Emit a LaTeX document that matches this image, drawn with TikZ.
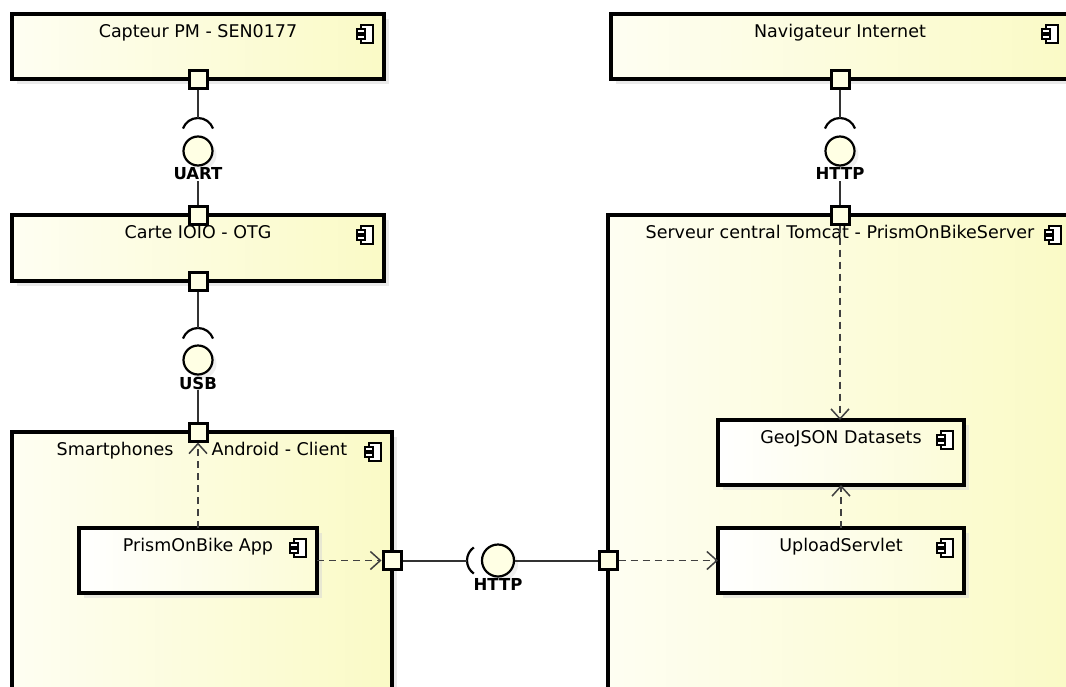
\documentclass[tikz,border=0pt]{standalone}
\usepackage{fontspec}
\setmainfont{DejaVu Sans}
\usetikzlibrary{positioning, arrows.meta, shadows}
\definecolor{compleft}{HTML}{FEFEF2}
\definecolor{compright}{HTML}{FAFAC6}
\definecolor{portfill}{HTML}{FFFFE4}
\tikzset{
x=1pt, y=-1pt, % one unit per pixel, y runs downwards
comp/.style={rectangle, draw, line width=3.2pt, outer sep=0pt, anchor=north west, left color=compleft, right color=compright,
  drop shadow={shadow xshift=5pt, shadow yshift=-5pt, fill=black!16}}, % the component boxes
inner/.style={comp, left color=white, right color=compright!70}, % components nested in another one
port/.style={rectangle, draw, line width=3pt, fill=portfill, minimum size=18pt, inner sep=0pt}, % the small squares
ball/.style={circle, draw, line width=2.2pt, fill=portfill, minimum size=29pt, inner sep=0pt,
  drop shadow={shadow xshift=4pt, shadow yshift=-4pt, fill=black!12}}, % provided interface
socket/.style={line width=2.2pt}, % required interface
iflabel/.style={font=\bfseries\fontsize{16.5}{18}\selectfont, inner sep=1pt}, % name of the interface
title/.style={anchor=base, font=\fontsize{17.5}{20}\selectfont}, % name of a component
wire/.style={draw=black!80, line width=2pt}, % assembly lines
dep/.style={draw=black!75, line width=1.8pt, dash pattern=on 7pt off 5pt,
  -{Straight Barb[length=10pt, width=18pt, line width=1.5pt]}}, % dependencies
compicon/.pic={
  \draw[line width=1.1pt, fill=white] (-6,-9) rectangle (6,9);
  \draw[line width=1.1pt, fill=white] (-10,-5) rectangle (-2,-1) (-10,1) rectangle (-2,5);
}, % the little component symbol
}

\begin{document}
\begin{tikzpicture}
  \useasboundingbox (0,0) rectangle (1066,686);
  \clip (0,0) rectangle (1066,686);

  % left column
  \node[comp, minimum width=372pt, minimum height=65pt] (capteur) at (12,14) {};
  \node[comp, minimum width=372pt, minimum height=66pt] (carte) at (12,215) {};
  \node[comp, minimum width=380pt, minimum height=268pt] (phone) at (12,432) {};
  \node[inner, minimum width=238pt, minimum height=65pt] (app) at (79,528) {};

  % right column
  \node[comp, minimum width=458pt, minimum height=65pt] (nav) at (611,14) {};
  \node[comp, minimum width=464pt, minimum height=485pt] (server) at (608,215) {};
  \node[inner, minimum width=246pt, minimum height=65pt] (geo) at (718,420) {};
  \node[inner, minimum width=246pt, minimum height=65pt] (upload) at (718,528) {};

  % titles and icons
  \node[title] (capteurT) at ([yshift=-23pt]capteur.north) {Capteur PM - SEN0177};
  \node[title] (carteT) at ([yshift=-23pt]carte.north) {Carte IOIO - OTG};
  \node[title] (phoneT) at ([yshift=-23pt]phone.north) {Smartphones\hspace{38pt}Android - Client};
  \node[title] (appT) at ([yshift=-23pt]app.north) {PrismOnBike App};
  \node[title] (navT) at ([yshift=-23pt]nav.north) {Navigateur Internet};
  \node[title] (serverT) at ([yshift=-23pt]server.north) {Serveur central Tomcat - PrismOnBikeServer};
  \node[title] (geoT) at ([yshift=-23pt]geo.north) {GeoJSON Datasets};
  \node[title] (uploadT) at ([yshift=-23pt]upload.north) {UploadServlet};
  \foreach \c in {capteur, carte, phone, app, nav, server, geo, upload}
    \pic at ([xshift=-17pt, yshift=-20pt]\c.north east) {compicon};

  % ports
  \node[port] (capteurS) at (capteur.south) {};
  \node[port] (carteN) at (carte.north) {};
  \node[port] (carteS) at (carte.south) {};
  \node[port] (phoneN) at (app.north |- phone.north) {};
  \node[port] (phoneE) at (phone.east |- app.east) {};
  \node[port] (navS) at (nav.south) {};
  \node[port] (serverN) at (server.north) {};
  \node[port] (serverW) at (server.west |- app.east) {};

  % interfaces
  \node[ball] (uart) at (198,151) {};
  \node[iflabel, below=0pt of uart] (uartL) {UART};
  \coordinate (uartS) at (198,118);
  \node[ball] (usb) at (198,360) {};
  \node[iflabel, below=0pt of usb] (usbL) {USB};
  \coordinate (usbS) at (198,328);
  \node[ball] (httpA) at (840,151) {};
  \node[iflabel, below=0pt of httpA] (httpAL) {HTTP};
  \coordinate (httpAS) at (840,118);
  \node[ball, minimum size=32pt] (httpB) at (498,560.5) {};
  \node[iflabel, below=0pt of httpB] (httpBL) {HTTP};
  \coordinate (httpBS) at (467,560.5);

  \foreach \s in {uartS, usbS, httpAS}
    \draw[socket] (\s) arc[start angle=270, end angle=340, radius=16]
                  (\s) arc[start angle=270, end angle=200, radius=16];
  \draw[socket] (httpBS) arc[start angle=180, end angle=125, radius=16]
                (httpBS) arc[start angle=180, end angle=235, radius=16];

  \draw[wire] (capteurS) -- (uartS)
              (uartL) -- (carteN)
              (carteS) -- (usbS)
              (usbL) -- (phoneN)
              (navS) -- (httpAS)
              (httpAL) -- (serverN)
              (phoneE) -- (httpBS)
              (httpB) -- (serverW);

  % dependencies
  \draw[dep] (app) -- (phoneN);
  \draw[dep] (app) -- (phoneE);
  \draw[dep] (serverW) -- (upload);
  \draw[dep] (serverN) -- (serverN |- geo.north);
  \draw[dep] (upload) -- (geo);
\end{tikzpicture}
\end{document}
